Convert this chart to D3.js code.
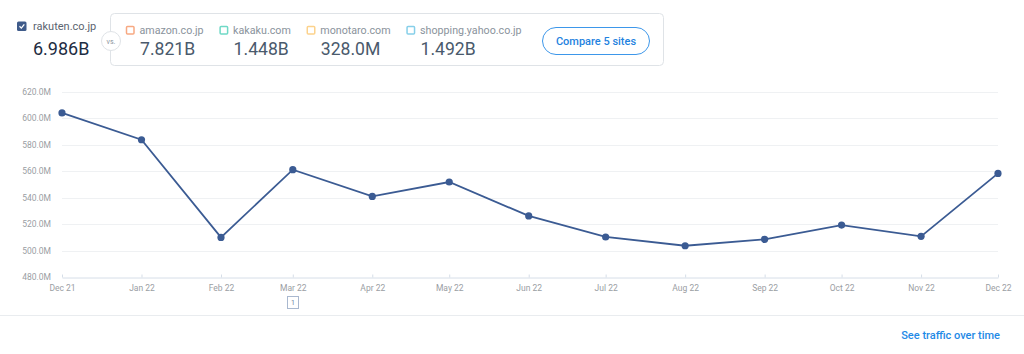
<html lang="en">
<head>
<meta charset="UTF-8">
<script src="https://d3js.org/d3.v7.min.js"></script>
<style>
  body { margin: 0; background: #fff; font-family: Roboto, "Open Sans", sans-serif; }
</style>
</head>
<body>
<div id="chart"></div>
<script>
// data
const months = ["2021-12", "2022-01", "2022-02", "2022-03", "2022-04", "2022-05", "2022-06",
                "2022-07", "2022-08", "2022-09", "2022-10", "2022-11", "2022-12"];
const visits = [603.8, 583.6, 509.9, 561.0, 540.8, 551.7, 526.1, 510.2, 503.6, 508.4, 519.2, 510.7, 558.2];
const yTicks = [480, 500, 520, 540, 560, 580, 600, 620];

const mainSite = "rakuten.co.jp";
const mainTotal = "6.986B";
const rivals = ["amazon.co.jp", "kakaku.com", "monotaro.com", "shopping.yahoo.co.jp"];
const rivalTotals = ["7.821B", "1.448B", "328.0M", "1.492B"];
const rivalColors = ["#f7a982", "#6fd9c6", "#fcd28c", "#86cfe9"];

const parse = d3.timeParse("%Y-%m");
const data = months.map((m, i) => ({ date: parse(m), v: visits[i] }));

const svg = d3.select("#chart").append("svg")
  .attr("width", 1024)
  .attr("height", 354)
  .style("font-family", "Roboto, sans-serif");

// ---------- header ----------
const head = svg.append("g");

head.append("rect")
  .attr("x", 17).attr("y", 21.5).attr("width", 9.5).attr("height", 9.5).attr("rx", 1.5)
  .attr("fill", "#3f5b8a");
head.append("path")
  .attr("d", "M19.5,26.3 L21.3,28.1 L24.3,24.3")
  .attr("fill", "none").attr("stroke", "#fff").attr("stroke-width", 1.3);
head.append("text")
  .attr("x", 33).attr("y", 30)
  .attr("font-size", 11).attr("fill", "#5b6470")
  .text(mainSite);
head.append("text")
  .attr("x", 33).attr("y", 55)
  .attr("font-size", 18).attr("fill", "#1d2c42")
  .text(mainTotal);

head.append("rect")
  .attr("x", 110.5).attr("y", 13.5).attr("width", 553).attr("height", 52).attr("rx", 4)
  .attr("fill", "#fff").attr("stroke", "#dfe3e7");
head.append("circle")
  .attr("cx", 111).attr("cy", 41).attr("r", 9.5)
  .attr("fill", "#fff").attr("stroke", "#dfe3e7");
head.append("text")
  .attr("x", 111).attr("y", 43.5).attr("text-anchor", "middle")
  .attr("font-size", 7).attr("fill", "#8a939c")
  .text("vs.");

let cx = 126;
rivals.forEach((r, i) => {
  const g = head.append("g");
  g.append("rect")
    .attr("x", cx + 0.5).attr("y", 26.5).attr("width", 7.5).attr("height", 7.5).attr("rx", 1)
    .attr("fill", "none").attr("stroke", rivalColors[i]).attr("stroke-width", 1.5);
  const t1 = g.append("text")
    .attr("x", cx + 13.5).attr("y", 34)
    .attr("font-size", 10.7).attr("fill", "#8a939c")
    .text(r);
  const t2 = g.append("text")
    .attr("x", cx + 14).attr("y", 54.5)
    .attr("font-size", 17.6).attr("fill", "#4a5a6c")
    .text(rivalTotals[i]);
  const w = Math.max(t1.node().getComputedTextLength(), t2.node().getComputedTextLength());
  cx += 13.5 + w + 16;
});

head.append("rect")
  .attr("x", 542.5).attr("y", 27.5).attr("width", 107).attr("height", 27).attr("rx", 13.5)
  .attr("fill", "#fff").attr("stroke", "#3d97ea");
head.append("text")
  .attr("x", 596).attr("y", 45).attr("text-anchor", "middle")
  .attr("font-size", 11).attr("font-weight", 500).attr("fill", "#1f83e0")
  .text("Compare 5 sites");

// ---------- chart ----------
const x = d3.scaleTime()
  .domain([data[0].date, data[data.length - 1].date])
  .range([62, 998]);
const y = d3.scaleLinear()
  .domain([480, 620])
  .range([277, 91.5]);

svg.append("g")
  .selectAll("line")
  .data(yTicks.filter(t => t > 480))
  .join("line")
  .attr("x1", 62).attr("x2", 998)
  .attr("y1", d => Math.round(y(d)) + 0.5).attr("y2", d => Math.round(y(d)) + 0.5)
  .attr("stroke", "#eff1f3");

const yAxis = svg.append("g")
  .attr("transform", "translate(54,0)")
  .call(d3.axisLeft(y).tickValues(yTicks).tickSize(0).tickPadding(3)
    .tickFormat(d => d.toFixed(1) + "M"));
yAxis.select(".domain").remove();
yAxis.selectAll("text")
  .attr("font-size", 8.5).attr("fill", "#9a9ea3").attr("font-family", "Roboto, sans-serif");

const xAxis = svg.append("g")
  .attr("transform", "translate(0,277.5)")
  .call(d3.axisBottom(x).tickValues(data.map(d => d.date)).tickSize(3).tickSizeOuter(0).tickPadding(4)
    .tickFormat(d3.timeFormat("%b %y")));
xAxis.select(".domain").attr("stroke", "#d6dee8");
xAxis.selectAll(".tick line").attr("stroke", "#d6dee8").attr("y1", -3).attr("y2", 0);
xAxis.selectAll("text")
  .attr("font-size", 8.5).attr("fill", "#9a9ea3").attr("font-family", "Roboto, sans-serif");

const line = d3.line()
  .x(d => x(d.date))
  .y(d => y(d.v));

svg.append("path")
  .datum(data)
  .attr("d", line)
  .attr("fill", "none")
  .attr("stroke", "#3b5b93")
  .attr("stroke-width", 1.8);

svg.append("g")
  .selectAll("circle")
  .data(data)
  .join("circle")
  .attr("cx", d => x(d.date))
  .attr("cy", d => y(d.v))
  .attr("r", 3.6)
  .attr("fill", "#3b5b93");

// annotation marker under Mar 22
const mx = x(data[3].date);
svg.append("rect")
  .attr("x", Math.round(mx) - 5.5).attr("y", 296.5).attr("width", 11).attr("height", 12)
  .attr("fill", "#fff").attr("stroke", "#a9b8cf");
svg.append("text")
  .attr("x", Math.round(mx)).attr("y", 305).attr("text-anchor", "middle")
  .attr("font-size", 7).attr("fill", "#6b7f9e")
  .text("1");

// footer
svg.append("line")
  .attr("x1", 0).attr("x2", 1024).attr("y1", 315.5).attr("y2", 315.5)
  .attr("stroke", "#e9ecef");
svg.append("text")
  .attr("x", 1000).attr("y", 339).attr("text-anchor", "end")
  .attr("font-size", 11).attr("font-weight", 500).attr("fill", "#1f8ae6")
  .text("See traffic over time");
</script>
</body>
</html>
